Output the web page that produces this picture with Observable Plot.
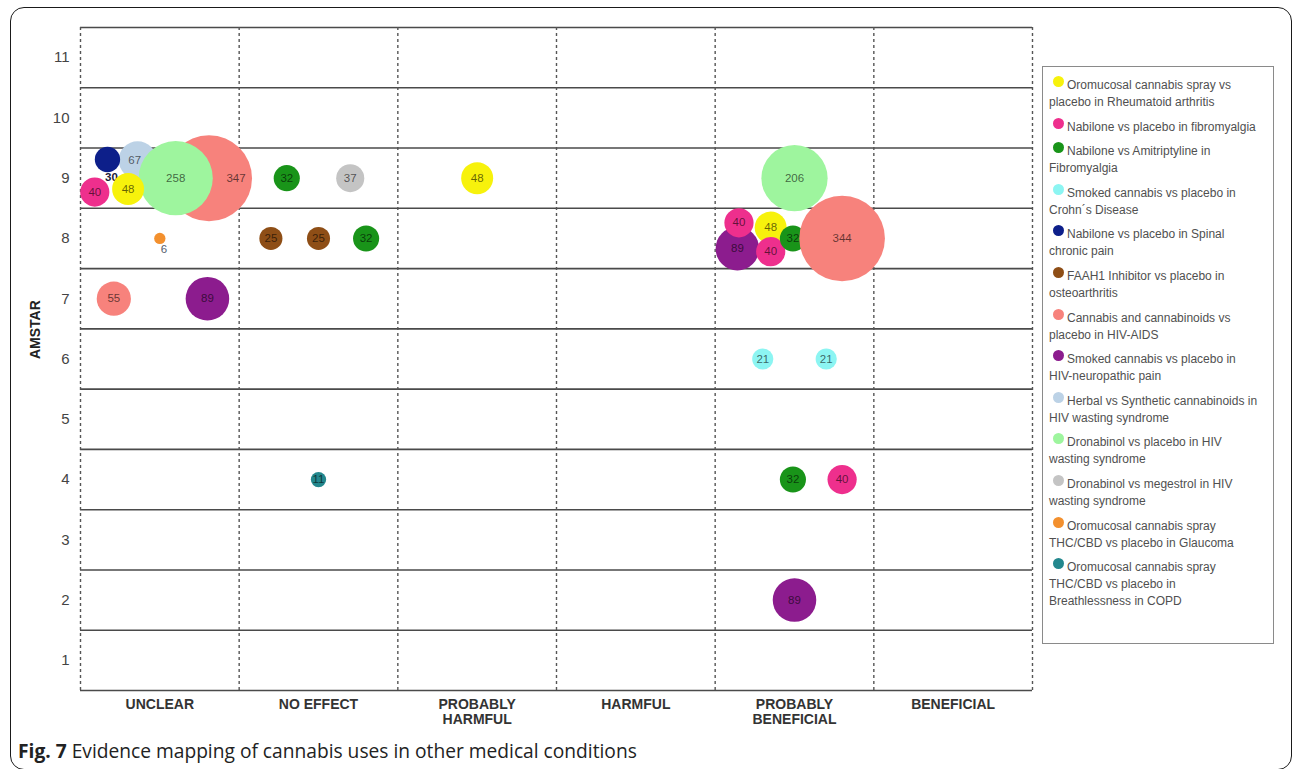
<!DOCTYPE html>
<html>
<head>
<meta charset="utf-8">
<script src="https://cdn.jsdelivr.net/npm/d3@7"></script>
<script src="https://cdn.jsdelivr.net/npm/@observablehq/plot@0.6"></script>
<style>
  html, body { margin: 0; padding: 0; background: #fff; }
  #page { position: relative; width: 1295px; height: 769px; overflow: hidden; }
  #frame { position: absolute; left: 10px; top: 7px; width: 1282px; height: 763px;
           border: 1.6px solid #1a1a1a; border-radius: 14px; box-sizing: border-box; }
  #chart { position: absolute; left: 0; top: 0; }
  #legend { position: absolute; left: 1042px; top: 66px; width: 232px; height: 578px;
            border: 1.5px solid #8a8a8a; box-sizing: border-box; padding: 9px 4px 0 6px;
            font-family: "Liberation Sans", Arial, sans-serif; font-size: 12px; color: #505050; }
  .item { white-space: pre; line-height: 17px; margin-bottom: 6.6px; }
  .sw { display: inline-block; width: 11px; height: 11px; border-radius: 50%;
        margin-left: 4px; margin-right: 3px; vertical-align: 2px; }
  #caption { position: absolute; left: 18px; top: 737px; font-family: "Open Sans", sans-serif;
             font-size: 19.2px; color: #222; white-space: nowrap; }
</style>
</head>
<body>
<div id="page">
  <div id="frame"></div>
  <div id="chart"></div>
  <div id="legend"></div>
  <div id="caption"><b>Fig. 7</b> Evidence mapping of cannabis uses in other medical conditions</div>
</div>
<script>
// ---- Data ----
const effectCategories = ["UNCLEAR", "NO EFFECT", "PROBABLY\nHARMFUL", "HARMFUL", "PROBABLY\nBENEFICIAL", "BENEFICIAL"];
const amstarTicks = [1, 2, 3, 4, 5, 6, 7, 8, 9, 10, 11];

const seriesNames = [
  "Oromucosal cannabis spray vs\nplacebo in Rheumatoid arthritis",
  "Nabilone vs placebo in fibromyalgia",
  "Nabilone vs Amitriptyline in\nFibromyalgia",
  "Smoked cannabis vs placebo in\nCrohn´s Disease",
  "Nabilone vs placebo in Spinal\nchronic pain",
  "FAAH1 Inhibitor vs placebo in\nosteoarthritis",
  "Cannabis and cannabinoids vs\nplacebo in HIV-AIDS",
  "Smoked cannabis vs placebo in\nHIV-neuropathic pain",
  "Herbal vs Synthetic cannabinoids in\nHIV wasting syndrome",
  "Dronabinol vs placebo in HIV\nwasting syndrome",
  "Dronabinol vs megestrol in HIV\nwasting syndrome",
  "Oromucosal cannabis spray\nTHC/CBD vs placebo in Glaucoma",
  "Oromucosal cannabis spray\nTHC/CBD vs placebo in\nBreathlessness in COPD"
];
const seriesColors = [
  "#f7f20c", "#ee2f8d", "#199419", "#8cf5f2", "#0d1f8a", "#8e4e16", "#f7827c",
  "#8c1c8e", "#bcd2e6", "#9ef59e", "#c4c4c4", "#f3902e", "#23878d"
];

// bubbles (draw order = array order)
const pointSeries = [6, 8, 9, 4, 1, 0, 11, 6, 7,   2, 10, 5, 5, 2, 12,   0,   9, 7, 1, 0, 1, 2, 6, 3, 3, 2, 1, 7];
const pointEffect = [0.81, 0.36, 0.60, 0.17, 0.09, 0.30, 0.50, 0.21, 0.80,
                     1.30, 1.70, 1.20, 1.50, 1.80, 1.50,
                     2.50,
                     4.50, 4.14, 4.15, 4.35, 4.35, 4.49, 4.80, 4.30, 4.70, 4.49, 4.80, 4.50];
const pointAmstar = [9.0, 9.3, 9.0, 9.31, 8.77, 8.82, 8.0, 7.0, 7.0,
                     9, 9, 8, 8, 8, 4,
                     9,
                     9, 7.83, 8.26, 8.18, 7.78, 8.0, 8.0, 6, 6, 4, 4, 2];
const pointN = [347, 67, 258, 30, 40, 48, 6, 55, 89,
                32, 37, 25, 25, 32, 11,
                48,
                206, 89, 40, 48, 40, 32, 344, 21, 21, 32, 40, 89];
const labelBelow = [3, 6];          // numbers written under the bubble
const labelNudge = {0: 27, 1: -3};  // numbers moved sideways onto the visible part

const points = pointN.map((n, i) => ({
  effect: pointEffect[i], amstar: pointAmstar[i], n, s: pointSeries[i],
  below: labelBelow.includes(i), nudge: labelNudge[i] || 0
}));

const bubbleMarks = points.flatMap(d => [
  Plot.dot([d], {x: "effect", y: "amstar", r: "n", fill: seriesColors[d.s], stroke: "none"}),
  d.below
    ? Plot.text([d], {x: "effect", y: "amstar", text: d => String(d.n), fill: d.s === 4 ? "#1a1a3a" : "#55606e",
        fontSize: 11.5, fontWeight: d.s === 4 ? "bold" : "normal", dx: 4, dy: 2.31 * Math.sqrt(d.n) + 5})
    : Plot.text([d], {x: "effect", y: "amstar", text: d => String(d.n), fill: "#000", fillOpacity: 0.6,
        fontSize: 11.5, dx: d.nudge})
]);

const chart = Plot.plot({
  width: 1295,
  height: 735,
  marginLeft: 80,
  marginRight: 263,
  marginTop: 27,
  marginBottom: 45,
  style: {fontFamily: "'Liberation Sans', Arial, sans-serif", color: "#333", background: "transparent", overflow: "visible"},
  x: {domain: [0, effectCategories.length]},
  y: {domain: [0.5, 11.5]},
  r: {type: "sqrt", domain: [0, 347], range: [0, 43]},
  marks: [
    Plot.ruleY(d3.range(0.5, 12, 1), {x1: 0, x2: effectCategories.length, stroke: "#4a4a4a", strokeWidth: 1.6}),
    Plot.ruleX(d3.range(0, effectCategories.length + 1), {y1: 0.5, y2: 11.5, stroke: "#555", strokeWidth: 1.4, strokeDasharray: "3,3"}),
    ...bubbleMarks,
    Plot.axisY({ticks: amstarTicks, tickSize: 0, tickPadding: 11, fontSize: 15, fill: "#444", label: null}),
    Plot.axisX({ticks: effectCategories.map((c, i) => i + 0.5), tickFormat: v => effectCategories[Math.floor(v)],
      tickSize: 0, tickPadding: 8, fontSize: 14, fontWeight: "bold", fill: "#333", lineHeight: 1.05, label: null}),
    Plot.text(["AMSTAR"], {frameAnchor: "left", dx: -45, rotate: -90, fontWeight: "bold", fontSize: 14, fill: "#222"})
  ]
});
document.getElementById("chart").appendChild(chart);

// legend
const legend = document.getElementById("legend");
seriesNames.forEach((name, i) => {
  const item = document.createElement("div");
  item.className = "item";
  const sw = document.createElement("span");
  sw.className = "sw";
  sw.style.background = seriesColors[i];
  item.appendChild(sw);
  item.appendChild(document.createTextNode(name));
  legend.appendChild(item);
});
</script>
</body>
</html>
